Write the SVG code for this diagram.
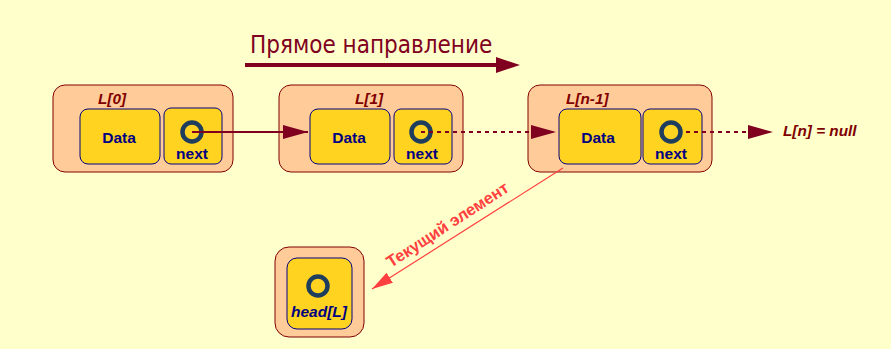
<svg xmlns="http://www.w3.org/2000/svg" width="891" height="349" viewBox="0 0 891 349">
<style>
.outer{fill:#FFCC99;stroke:#800000;stroke-width:1}
.inner{fill:#FFD320;stroke:#000080;stroke-width:1}
.ring{fill:none;stroke:#1F3D5C;stroke-width:4.5}
.dt{font-family:"Liberation Sans",Arial,sans-serif;font-weight:bold;font-size:15.5px;fill:#000080;text-anchor:middle}
.lb{font-family:"Liberation Sans",Arial,sans-serif;font-weight:bold;font-style:italic;font-size:15.3px;fill:#800000}
.cn{stroke:#800020;stroke-width:2;fill:none}
.dash{stroke-dasharray:4,4}
</style>
<defs>
<marker id="ah" markerWidth="26" markerHeight="16" refX="25" refY="7" orient="auto" markerUnits="userSpaceOnUse">
<path d="M0,0 L25,7 L0,14 z" fill="#800020"/>
</marker>
<marker id="ahr" markerWidth="22" markerHeight="14" refX="21" refY="6" orient="auto" markerUnits="userSpaceOnUse">
<path d="M0,0 L21,6 L0,12 z" fill="#FF4040"/>
</marker>
</defs>
<rect width="891" height="349" fill="#FFFFCC"/>
<g id="title">
<text x="250" y="53" font-family="DejaVu Sans Condensed,DejaVu Sans,sans-serif" font-stretch="condensed" font-size="24" fill="#800020">Прямое направление</text>
<line x1="245" y1="65" x2="497" y2="65" stroke="#800020" stroke-width="4"/>
<path d="M496,57 L520,65 L496,73 z" fill="#800020"/>
</g>
<g id="node0">
<rect class="outer" x="53" y="85" width="180" height="87" rx="12"/>
<text class="lb" x="98" y="104">L[0]</text>
<rect class="inner" x="80" y="109" width="80" height="55" rx="8"/>
<text class="dt" x="119" y="143">Data</text>
<rect class="inner" x="164" y="108" width="58" height="56" rx="7"/>
<circle class="ring" cx="192" cy="132" r="9.5"/>
<text class="dt" x="192" y="159">next</text>
</g>
<g id="node1">
<rect class="outer" x="279" y="85" width="184" height="87" rx="12"/>
<text class="lb" x="355" y="104">L[1]</text>
<rect class="inner" x="310" y="109" width="80" height="55" rx="8"/>
<text class="dt" x="349" y="143">Data</text>
<rect class="inner" x="394" y="109" width="58" height="55" rx="7"/>
<circle class="ring" cx="421" cy="132" r="9.5"/>
<text class="dt" x="422" y="159">next</text>
</g>
<g id="noden1">
<rect class="outer" x="528" y="85" width="184" height="87" rx="12"/>
<text class="lb" x="566" y="104">L[n-1]</text>
<rect class="inner" x="559" y="109" width="82" height="55" rx="8"/>
<text class="dt" x="598" y="143">Data</text>
<rect class="inner" x="643" y="109" width="59" height="55" rx="7"/>
<circle class="ring" cx="671" cy="132" r="9.5"/>
<text class="dt" x="671" y="159">next</text>
</g>
<g id="null">
<text class="lb" x="783" y="136" font-size="16">L[n] = null</text>
</g>
<g id="head">
<rect class="outer" x="275" y="247" width="89" height="90" rx="14"/>
<rect class="inner" x="287" y="258" width="65" height="71" rx="10"/>
<circle class="ring" cx="318" cy="286" r="9.5"/>
<text class="dt" x="319" y="317" font-style="italic">head[L]</text>
</g>
<g id="connectors">
<line class="cn" x1="192" y1="132" x2="308" y2="132" marker-end="url(#ah)"/>
<line class="cn dash" x1="421" y1="132" x2="556" y2="132" marker-end="url(#ah)"/>
<line class="cn dash" x1="686" y1="132" x2="773" y2="132" marker-end="url(#ah)"/>
<line x1="563" y1="168" x2="372" y2="289" stroke="#FF4040" stroke-width="1.2" marker-end="url(#ahr)"/>
<text x="391" y="268" transform="rotate(-33 391 268)" font-family="Liberation Sans,Arial,sans-serif" font-weight="bold" font-size="16.5" fill="#FF4040">Текущий элемент</text>
</g>
</svg>
